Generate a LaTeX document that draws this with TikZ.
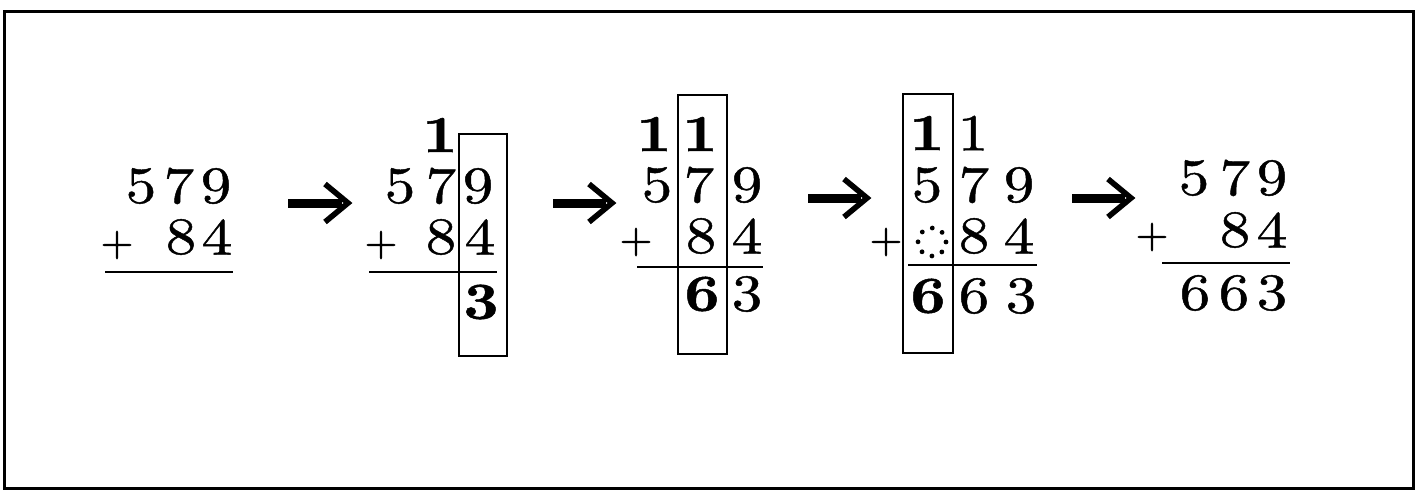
\documentclass[tikz,border=0pt]{standalone}
\usepackage{fontspec}
\newfontfamily\digf{lmroman10-regular.otf}[BoldFont=lmroman10-bold.otf, FakeStretch=1.18, FakeBold=0.9]
\newfontfamily\plusf{lmroman10-regular.otf}[FakeBold=1.6]
\newcommand\digfont{\digf\fontsize{26}{30}\selectfont}
\newcommand\plusfont{\plusf\fontsize{21}{24}\selectfont}
\tikzset{
  dg/.style={inner sep=0pt, font=\digfont},
  bd/.style={inner sep=0pt, font=\digfont\bfseries},
  pl/.style={inner sep=0pt, font=\plusfont},
  ul/.style={line width=1pt},
  colbox/.style={line width=1pt},
  shaft/.style={line width=4.5pt},
  head/.style={line width=2.8pt, miter limit=10},
  dotc/.style={line width=2.4pt, line cap=round, dash pattern=on 0pt off 5.5pt}
}
\newcommand\arrowhead[1]{\draw[head] ([shift={(-23,-19)}]#1) -- (#1) -- ([shift={(-23,19)}]#1);}
\begin{document}
\begin{tikzpicture}[x=0.5pt,y=-0.5pt]
\useasboundingbox (0,0) rectangle (1417,493);
\draw[line width=1.5pt] (4,11) rectangle (1413,488);

% Panel 1
\node[dg] (a5) at (141,186) {5};
\node[dg] (a7) at (179,186) {7};
\node[dg] (a9) at (216,186) {9};
\node[pl] (ap) at (117,245) {+};
\node[dg] (a8) at (181,237) {8};
\node[dg] (a4) at (217,237) {4};
\draw[ul] (105,272) -- (233,272);

\coordinate (r1s) at (288,203); \coordinate (r1e) at (348,203);
\draw[shaft] (r1s) -- ([xshift=-3]r1e);
\arrowhead{r1e}

% Panel 2
\draw[colbox] (459,134) rectangle (507,356);
\node[bd] (bc1) at (440,135) {1};
\node[dg] (b5) at (400,186) {5};
\node[dg] (b7) at (441,186) {7};
\node[dg] (b9) at (478,186) {9};
\node[pl] (bp) at (381,245) {+};
\node[dg] (b8) at (441,237) {8};
\node[dg] (b4) at (480,237) {4};
\draw[ul] (369,272) -- (497,272);
\node[bd] (b3) at (481,302) {3};

\coordinate (r2s) at (553,203); \coordinate (r2e) at (612,203);
\draw[shaft] (r2s) -- ([xshift=-3]r2e);
\arrowhead{r2e}

% Panel 3
\draw[colbox] (678,95) rectangle (727,354);
\node[bd] (cc1) at (654,134) {1};
\node[bd] (cc2) at (700,134) {1};
\node[dg] (c5) at (657,185) {5};
\node[dg] (c7) at (699,185) {7};
\node[dg] (c9) at (747,185) {9};
\node[pl] (cp) at (636,242) {+};
\node[dg] (c8) at (701,236) {8};
\node[dg] (c4) at (747,236) {4};
\draw[ul] (637,267) -- (763,267);
\node[bd] (c6) at (702,294) {6};
\node[dg] (c3) at (747,294) {3};

\coordinate (r3s) at (808,198); \coordinate (r3e) at (867,198);
\draw[shaft] (r3s) -- ([xshift=-3]r3e);
\arrowhead{r3e}

% Panel 4
\draw[colbox] (903,94) rectangle (953,353);
\node[bd] (dc1) at (927,133) {1};
\node[dg] (dc2) at (973,133) {1};
\node[dg] (d5) at (927,185) {5};
\node[dg] (d7) at (974,185) {7};
\node[dg] (d9) at (1019,185) {9};
\node[pl] (dp) at (886,242) {+};
\coordinate (dz) at (932,242);
\draw[dotc] (dz) circle [radius=14];
\node[dg] (d8) at (974,236) {8};
\node[dg] (d4) at (1019,236) {4};
\draw[ul] (908,265) -- (1037,265);
\node[bd] (d6a) at (928,296) {6};
\node[dg] (d6b) at (974,296) {6};
\node[dg] (d3) at (1021,296) {3};

\coordinate (r4s) at (1072,198); \coordinate (r4e) at (1131,198);
\draw[shaft] (r4s) -- ([xshift=-3]r4e);
\arrowhead{r4e}

% Panel 5
\node[dg] (e5) at (1194,178) {5};
\node[dg] (e7) at (1235,178) {7};
\node[dg] (e9) at (1272,178) {9};
\node[pl] (ep) at (1152,237) {+};
\node[dg] (e8) at (1235,230) {8};
\node[dg] (e4) at (1272,230) {4};
\draw[ul] (1162,263) -- (1290,263);
\node[dg] (e6a) at (1195,293) {6};
\node[dg] (e6b) at (1234,293) {6};
\node[dg] (e3) at (1272,293) {3};
\end{tikzpicture}
\end{document}
